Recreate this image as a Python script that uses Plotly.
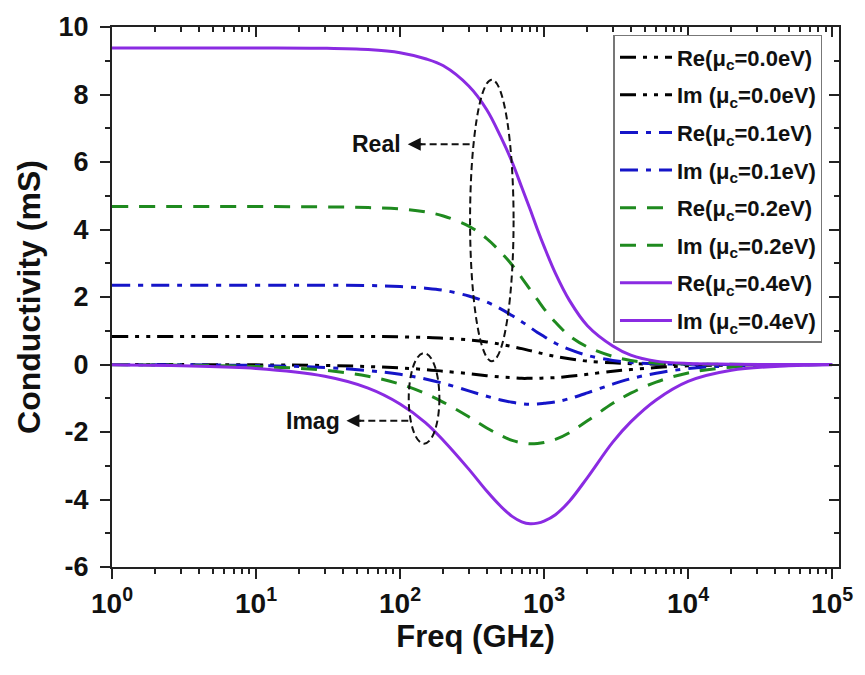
import plotly.graph_objects as go

# ---- data ----
freq_ghz = [1, 10, 30, 60, 100, 150, 200, 300, 400, 500, 600, 700, 800, 900, 1000,
            1200, 1500, 2000, 3000, 4000, 6000, 10000, 20000, 50000, 100000]

re_00 = [0.83, 0.83, 0.83, 0.83, 0.82, 0.80, 0.78, 0.73, 0.67, 0.60, 0.53, 0.47, 0.41, 0.36, 0.31,
         0.24, 0.17, 0.10, 0.05, 0.025, 0.01, 0.0, 0.0, 0.0, 0.0]
im_00 = [-0.001, -0.01, -0.03, -0.06, -0.10, -0.15, -0.20, -0.27, -0.33, -0.37, -0.39, -0.41, -0.41, -0.41, -0.40,
         -0.39, -0.35, -0.29, -0.20, -0.15, -0.09, -0.04, -0.015, 0.0, 0.0]

re_01 = [2.35, 2.35, 2.35, 2.34, 2.31, 2.26, 2.20, 2.03, 1.85, 1.65, 1.45, 1.27, 1.10, 0.95, 0.83,
         0.63, 0.45, 0.27, 0.12, 0.06, 0.02, 0.01, 0.0, 0.0, 0.0]
im_01 = [-0.003, -0.03, -0.09, -0.18, -0.29, -0.43, -0.56, -0.78, -0.94, -1.05, -1.12, -1.16, -1.18, -1.17, -1.15,
         -1.11, -1.01, -0.84, -0.58, -0.42, -0.26, -0.12, -0.04, -0.01, 0.0]

re_02 = [4.68, 4.68, 4.67, 4.65, 4.61, 4.52, 4.40, 4.10, 3.73, 3.33, 2.95, 2.57, 2.22, 1.92, 1.65,
         1.25, 0.85, 0.52, 0.24, 0.12, 0.04, 0.015, 0.005, 0.0, 0.0]
im_02 = [-0.005, -0.06, -0.17, -0.35, -0.58, -0.86, -1.12, -1.55, -1.88, -2.10, -2.25, -2.32, -2.35, -2.34, -2.31,
         -2.22, -2.02, -1.67, -1.15, -0.85, -0.52, -0.25, -0.08, -0.02, 0.0]

re_04 = [9.38, 9.38, 9.37, 9.33, 9.24, 9.06, 8.85, 8.25, 7.55, 6.75, 6.00, 5.25, 4.60, 4.00, 3.50,
         2.70, 1.90, 1.15, 0.55, 0.28, 0.10, 0.03, 0.01, 0.0, 0.0]
im_04 = [-0.01, -0.12, -0.35, -0.70, -1.17, -1.72, -2.25, -3.10, -3.75, -4.20, -4.50, -4.66, -4.72, -4.70, -4.64,
         -4.45, -4.05, -3.35, -2.30, -1.70, -1.05, -0.50, -0.17, -0.04, -0.01]

x_tickvals = [1, 10, 100, 1000, 10000, 100000]
x_ticktext = ["10<sup>0</sup>", "10<sup>1</sup>", "10<sup>2</sup>", "10<sup>3</sup>", "10<sup>4</sup>", "10<sup>5</sup>"]
y_tickvals = [-6, -4, -2, 0, 2, 4, 6, 8, 10]
y_ticktext = ["-6", "-4", "-2", "0", "2", "4", "6", "8", "10"]

series = [
    ("Re(μ<sub>c</sub>=0.0eV)", re_00, "#000000", "16px,7px,4px,7px,4px,7px"),
    ("Im (μ<sub>c</sub>=0.0eV)", im_00, "#000000", "16px,7px,4px,7px,4px,7px"),
    ("Re(μ<sub>c</sub>=0.1eV)", re_01, "#1515c8", "18px,8px,5px,8px"),
    ("Im (μ<sub>c</sub>=0.1eV)", im_01, "#1515c8", "18px,8px,5px,8px"),
    ("Re(μ<sub>c</sub>=0.2eV)", re_02, "#1f8a1f", "16px,11px"),
    ("Im (μ<sub>c</sub>=0.2eV)", im_02, "#1f8a1f", "16px,11px"),
    ("Re(μ<sub>c</sub>=0.4eV)", re_04, "#8a2be2", "solid"),
    ("Im (μ<sub>c</sub>=0.4eV)", im_04, "#8a2be2", "solid"),
]

FONT = "Liberation Sans, Arial, sans-serif"
TXT = "#111111"

fig = go.Figure()
for i, (name, ys, color, dash) in enumerate(series):
    fig.add_trace(go.Scatter(
        x=freq_ghz, y=ys, mode="lines", name=name,
        line=dict(color=color, width=3, dash=dash, shape="spline", smoothing=1.0),
        legendgroup=f"g{i}",
    ))

# dummy empty trace to materialize mirrored (inside-tick) axes
fig.add_trace(go.Scatter(x=[], y=[], xaxis="x2", yaxis="y2", showlegend=False, hoverinfo="skip"))

# plot area in pixels: left 112, right 847, top 24, bottom 567
L, R, T, B = 112, 847, 24, 567
W, H = 865, 675

def px(xp):
    return (xp - L) / (R - L)

def py(yp):
    return (B - yp) / (B - T)

axis_col = "#222222"
xr = [0, 5.048]
yr = [-6, 10]

fig.update_layout(
    width=W, height=H,
    margin=dict(l=L, r=W - R, t=T, b=H - B, pad=0),
    paper_bgcolor="white", plot_bgcolor="white",
    font=dict(family=FONT, size=20, color=TXT, weight="bold"),
    showlegend=True,
    legend=dict(
        x=px(619), y=py(32), xanchor="left", yanchor="top",
        bgcolor="white", bordercolor="#777777", borderwidth=1.5,
        font=dict(family=FONT, size=22, color=TXT, weight="bold"),
        tracegroupgap=6, itemwidth=52,
    ),
    xaxis=dict(
        type="log", range=xr, tickvals=x_tickvals, ticktext=x_ticktext,
        ticks="outside", ticklen=10, tickwidth=2, tickcolor=axis_col,
        showline=True, linewidth=2, linecolor=axis_col, mirror=False,
        showgrid=False, zeroline=False,
        tickfont=dict(family=FONT, size=28, color=TXT, weight="bold"),
        minor=dict(ticks="outside", ticklen=5, tickwidth=1.5, tickcolor=axis_col, dtick="D1", showgrid=False),
        title=dict(text="Freq (GHz)", font=dict(family=FONT, size=31, color=TXT, weight="bold"), standoff=2),
    ),
    yaxis=dict(
        range=yr, tickvals=y_tickvals, ticktext=y_ticktext,
        ticks="outside", ticklen=10, tickwidth=2, tickcolor=axis_col,
        showline=True, linewidth=2, linecolor=axis_col, mirror=False,
        showgrid=False, zeroline=False,
        tickfont=dict(family=FONT, size=27, color=TXT, weight="bold"),
        minor=dict(ticks="outside", ticklen=5, tickwidth=1.5, tickcolor=axis_col, dtick=1, showgrid=False),
        ticklabelstandoff=6,
        title=dict(text="Conductivity (mS)", font=dict(family=FONT, size=32, color=TXT, weight="bold"), standoff=8),
    ),
    xaxis2=dict(
        type="log", range=xr, overlaying="x", side="top", anchor="y2",
        tickvals=x_tickvals, showticklabels=False,
        ticks="inside", ticklen=10, tickwidth=2, tickcolor=axis_col,
        showline=True, linewidth=2, linecolor=axis_col, showgrid=False, zeroline=False,
        minor=dict(ticks="inside", ticklen=5, tickwidth=1.5, tickcolor=axis_col, dtick="D1", showgrid=False),
    ),
    yaxis2=dict(
        range=yr, overlaying="y", side="right", anchor="x2",
        tickvals=y_tickvals, showticklabels=False,
        ticks="inside", ticklen=10, tickwidth=2, tickcolor=axis_col,
        showline=True, linewidth=2, linecolor=axis_col, showgrid=False, zeroline=False,
        minor=dict(ticks="inside", ticklen=5, tickwidth=1.5, tickcolor=axis_col, dtick=1, showgrid=False),
    ),
)

dash_line = dict(color=TXT, width=2, dash="7px,4px")

# "Real" group ellipse and connector
fig.add_shape(type="circle", xref="paper", yref="paper",
              x0=px(474), x1=px(518), y0=py(360), y1=py(77), line=dash_line)
fig.add_shape(type="line", xref="paper", yref="paper",
              x0=px(422), x1=px(476), y0=py(142), y1=py(142), line=dash_line)
fig.add_annotation(xref="paper", yref="paper", x=px(411), y=py(142), ax=16, ay=0,
                   text="", showarrow=True, arrowhead=2, arrowsize=1.3, arrowwidth=2, arrowcolor=TXT)
fig.add_annotation(xref="paper", yref="paper", x=px(379), y=py(142), text="Real", showarrow=False,
                   xanchor="center", yanchor="middle",
                   font=dict(family=FONT, size=23, color=TXT, weight="bold"))

# "Imag" group ellipse and connector
fig.add_shape(type="circle", xref="paper", yref="paper",
              x0=px(412), x1=px(443), y0=py(443), y1=py(352), line=dash_line)
fig.add_shape(type="line", xref="paper", yref="paper",
              x0=px(360), x1=px(413), y0=py(420), y1=py(420), line=dash_line)
fig.add_annotation(xref="paper", yref="paper", x=px(349), y=py(420), ax=16, ay=0,
                   text="", showarrow=True, arrowhead=2, arrowsize=1.3, arrowwidth=2, arrowcolor=TXT)
fig.add_annotation(xref="paper", yref="paper", x=px(315), y=py(420), text="Imag", showarrow=False,
                   xanchor="center", yanchor="middle",
                   font=dict(family=FONT, size=23, color=TXT, weight="bold"))

fig.write_html("out.html")
